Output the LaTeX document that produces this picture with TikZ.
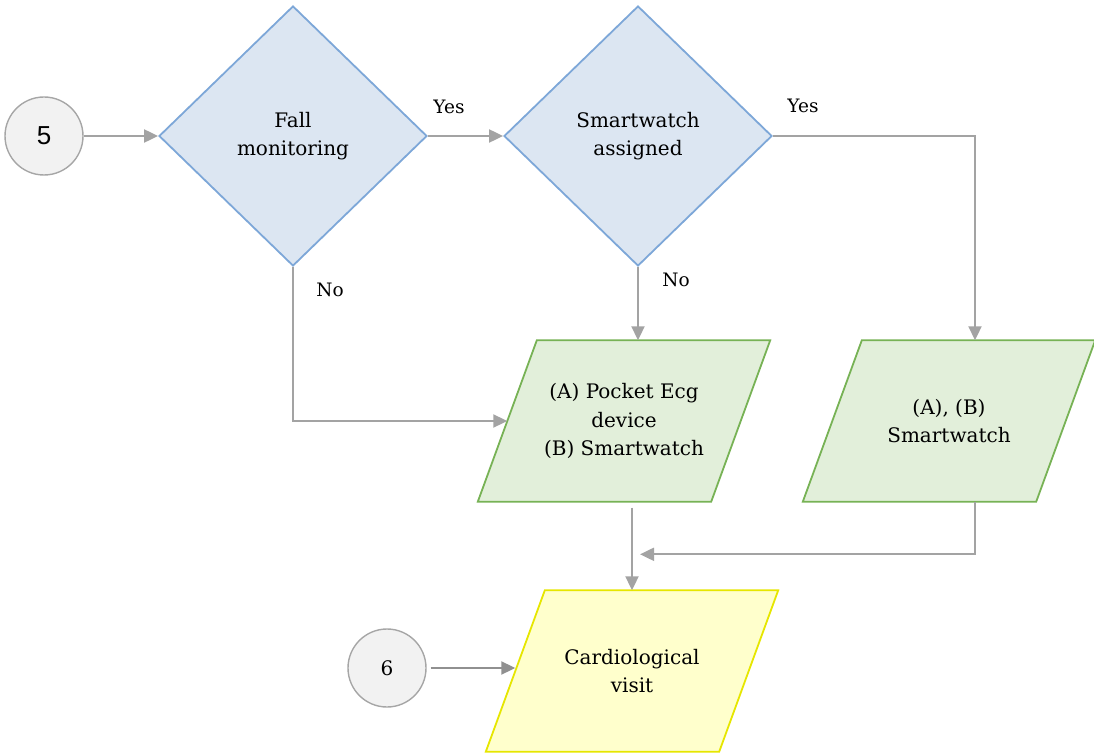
\documentclass[tikz,border=0pt]{standalone}
\usepackage{fontspec}
\setmainfont{DejaVu Serif}
\newfontfamily\numsans{Liberation Sans}
\usetikzlibrary{shapes.geometric,arrows.meta,calc,backgrounds}
\definecolor{dfill}{HTML}{DCE6F2}
\definecolor{dline}{HTML}{7DA7D8}
\definecolor{gfill}{HTML}{E2EFDA}
\definecolor{gline}{HTML}{77B255}
\definecolor{yfill}{HTML}{FFFFCC}
\definecolor{yline}{HTML}{E6E600}
\definecolor{cfill}{HTML}{F2F2F2}
\definecolor{cline}{HTML}{A6A6A6}
\definecolor{aline}{HTML}{A3A3A3}
\definecolor{aline2}{HTML}{909090}
\begin{document}
\begin{tikzpicture}[x=1pt,y=-1pt,
  txt/.style={font=\fontsize{20}{28.5}\selectfont, align=center},
  decision/.style={diamond, draw=dline, fill=dfill, line width=1.8pt,
    minimum width=268pt, minimum height=260pt, inner sep=0pt, txt},
  io/.style={rectangle, minimum width=233pt, minimum height=161pt,
    inner sep=0pt, txt},
  pshape/.style={line width=1.8pt},
  conn/.style={circle, draw=cline, fill=cfill, line width=1.4pt,
    minimum size=78pt, inner sep=0pt},
  flow/.style={draw=aline, line width=2pt, -{Triangle[length=14pt,width=13pt]}},
  lbl/.style={font=\fontsize{18.5}{20}\selectfont}]
\useasboundingbox (0,0) rectangle (1094,754);

\node[conn, font=\numsans\fontsize{26}{26}\selectfont] (c5) at (44,136) {5};
\node[decision] (d1) at (293,136) {Fall\\monitoring};
\node[decision] (d2) at (638,136) {Smartwatch\\assigned};
\node[io] (p1) at (624,421) {(A) Pocket Ecg\\device\\(B) Smartwatch};
\node[io] (p2) at (949,421) {(A), (B)\\Smartwatch};
\node[io] (y) at (632,671) {\raisebox{-2pt}{}Cardiological\\visit};
\node[conn, font=\fontsize{20}{20}\selectfont] (c6) at (387,668) {6};

\begin{scope}[on background layer]
  \foreach \n/\f/\d in {p1/gfill/gline, p2/gfill/gline, y/yfill/yline}{
    \path[pshape, fill=\f, draw=\d]
      ([xshift=29.5pt]\n.north west) -- ([xshift=29.5pt]\n.north east) --
      ([xshift=-29.5pt]\n.south east) -- ([xshift=-29.5pt]\n.south west) -- cycle;
  }
\end{scope}

\node[lbl] (yes1) at (449,107) {Yes};
\node[lbl] (yes2) at (803,106) {Yes};
\node[lbl] (no1) at (330,290) {No};
\node[lbl] (no2) at (676,280) {No};

\draw[flow] (c5.east) -- (d1.west);
\draw[flow] (d1.east) -- (d2.west);
\draw[flow] (d2.east) -| ([xshift=26pt]p2.north);
\draw[flow] (d1.south) |- (p1.west);
\draw[flow] (d2.south) -- (d2.south |- p1.north);
\draw[flow, shorten <=6pt] (y.north |- p1.south) -- (y.north);
\coordinate (m) at ($(y.north)+(0,-36)$);
\draw[flow, shorten >=8pt] ([xshift=26pt]p2.south) |- (m);
\draw[flow, draw=aline2, shorten <=4pt] (c6.east) -- (c6.east -| y.west);
\end{tikzpicture}
\end{document}
